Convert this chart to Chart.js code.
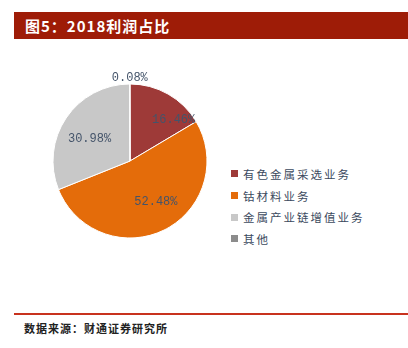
<!DOCTYPE html>
<html lang="zh">
<head>
    <meta charset="UTF-8">
    <title>图5：2018利润占比</title>
    <script src="https://cdn.jsdelivr.net/npm/chart.js"></script>
    <style>
        body { margin: 0; width: 408px; height: 348px; background: #fff; position: relative; overflow: hidden;
               font-family: "Noto Sans CJK SC", sans-serif; }
        .title-bar { position: absolute; left: 14px; top: 12px; width: 394px; height: 27px; background: #9E1C07; }
        .title-bar span { position: absolute; left: 11px; top: 3px; color: #fff; font-weight: bold; font-size: 15px; letter-spacing: 1px; }
        .chart-box { position: absolute; left: 30px; top: 61px; width: 200px; height: 200px; }
        #legend { position: absolute; left: 231px; top: 163px; font-size: 11.5px; color: #3B4A5E; }
        #legend div { height: 21.7px; display: flex; align-items: center; letter-spacing: 2px; }
        #legend i { display: inline-block; width: 7px; height: 7px; margin-right: 5px; }
        .rule { position: absolute; left: 14px; top: 313px; width: 394px; height: 2px; background: #C8321E; }
        .source { position: absolute; left: 24px; top: 320px; font-size: 11px; font-weight: bold; color: #222; letter-spacing: 1px; }
    </style>
</head>
<body>
    <div class="title-bar"><span>图5：2018利润占比</span></div>
    <div class="chart-box"><canvas id="pie"></canvas></div>
    <div id="legend"></div>
    <div class="rule"></div>
    <div class="source">数据来源：财通证券研究所</div>
    <script>
        const categories = ['有色金属采选业务', '钴材料业务', '金属产业链增值业务', '其他'];
        const shares = [16.46, 52.48, 30.98, 0.08];
        const colors = ['#9E3A38', '#E46C0A', '#C8C8C8', '#8C8C8C'];

        // label placement: radius factor + angle nudge (deg) per slice
        const labelRadius = [0.78, 0.63, 0.6, 1.08];
        const labelNudge = [17, -6, -5, 0];

        const labelPlugin = {
            id: 'sliceLabels',
            afterDatasetsDraw(chart) {
                const ctx = chart.ctx;
                const meta = chart.getDatasetMeta(0);
                ctx.save();
                ctx.font = '12px "Liberation Mono", "DejaVu Sans Mono", monospace';
                ctx.fillStyle = '#44546A';
                ctx.textAlign = 'center';
                ctx.textBaseline = 'middle';
                meta.data.forEach((arc, i) => {
                    const p = arc.getProps(['x', 'y', 'startAngle', 'endAngle', 'outerRadius'], true);
                    const mid = (p.startAngle + p.endAngle) / 2 + labelNudge[i] * Math.PI / 180;
                    const r = p.outerRadius * labelRadius[i];
                    ctx.fillText(shares[i].toFixed(2) + '%', p.x + Math.cos(mid) * r, p.y + Math.sin(mid) * r);
                });
                ctx.restore();
            }
        };

        new Chart(document.getElementById('pie'), {
            type: 'pie',
            data: {
                labels: categories,
                datasets: [{ data: shares, backgroundColor: colors, borderColor: '#fff', borderWidth: 1 }]
            },
            options: {
                responsive: true,
                maintainAspectRatio: false,
                animation: false,
                radius: 77,
                plugins: { legend: { display: false }, tooltip: { enabled: false } }
            },
            plugins: [labelPlugin]
        });

        document.getElementById('legend').innerHTML = categories
            .map((c, i) => `<div><i style="background:${colors[i]}"></i>${c}</div>`).join('');
    </script>
</body>
</html>
